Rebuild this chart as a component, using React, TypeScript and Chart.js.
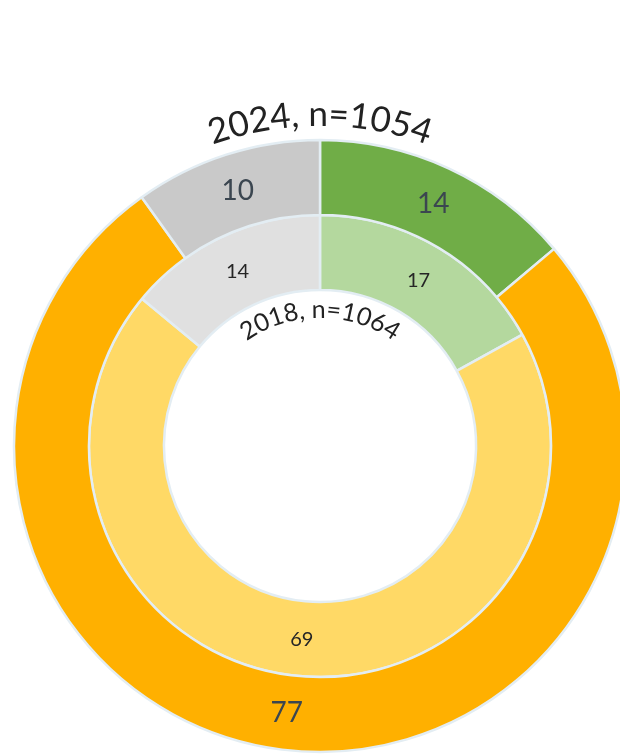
import React, { useEffect, useRef } from "react";
import { Chart, registerables } from "chart.js";

Chart.register(...registerables);

const categories = ["Yes", "No", "Don't know"];
const values2024 = [14, 77, 10];
const values2018 = [17, 69, 14];
const colors2024 = ["#70AD47", "#FFB000", "#C9C9C9"];
const colors2018 = ["#B4D89E", "#FFD966", "#E0E0E0"];
const title2024 = "2024, n=1054";
const title2018 = "2018, n=1064";

const FONT = "Lato, 'Open Sans', sans-serif";

function drawArcText(ctx: CanvasRenderingContext2D, text: string, cx: number, cy: number, r: number, font: string, color: string) {
  ctx.save();
  ctx.font = font;
  ctx.fillStyle = color;
  ctx.textAlign = "center";
  ctx.textBaseline = "alphabetic";
  const total = ctx.measureText(text).width;
  const span = total / r;
  let a = -span / 2;
  for (const ch of text) {
    const w = ctx.measureText(ch).width;
    const mid = a + w / 2 / r;
    ctx.save();
    ctx.translate(cx + r * Math.sin(mid), cy - r * Math.cos(mid));
    ctx.rotate(mid);
    ctx.fillText(ch, 0, 0);
    ctx.restore();
    a += w / r;
  }
  ctx.restore();
}

const labelsPlugin = {
  id: "ringLabels",
  afterDraw(chart: any) {
    const ctx = chart.ctx as CanvasRenderingContext2D;
    chart.data.datasets.forEach((ds: any, di: number) => {
      const meta = chart.getDatasetMeta(di);
      meta.data.forEach((arc: any, i: number) => {
        const p = arc.tooltipPosition();
        ctx.save();
        ctx.font = di === 0 ? `28px ${FONT}` : `20px ${FONT}`;
        ctx.fillStyle = di === 0 ? "#3B4650" : "#262626";
        ctx.textAlign = "center";
        ctx.textBaseline = "middle";
        ctx.fillText(String(ds.data[i]), p.x, p.y + 1);
        ctx.restore();
      });
    });
    const arc0 = chart.getDatasetMeta(0).data[0];
    const arc1 = chart.getDatasetMeta(1).data[0];
    if (arc0 && arc1) {
      const cx = arc0.x;
      const cy = arc0.y;
      drawArcText(ctx, title2024, cx, cy, arc0.outerRadius + 14, `35px ${FONT}`, "#222222");
      drawArcText(ctx, title2018, cx, cy, arc1.innerRadius - 28, `25px ${FONT}`, "#222222");
    }
  },
};

export default function App() {
  const ref = useRef<HTMLCanvasElement | null>(null);
  useEffect(() => {
    document.body.style.overflow = "hidden";
    const canvas = ref.current;
    if (!canvas) return;
    const chart = new Chart(canvas, {
      type: "doughnut",
      data: {
        labels: categories,
        datasets: [
          { label: "2024", data: values2024, backgroundColor: colors2024, borderColor: "#E3EDF3", borderWidth: 2.5 },
          { label: "2018", data: values2018, backgroundColor: colors2018, borderColor: "#E3EDF3", borderWidth: 2.5 },
        ],
      },
      options: {
        animation: false,
        responsive: false,
        cutout: "51%",
        radius: 306,
        layout: { padding: { left: 20, right: 0, top: 138, bottom: 0 } },
        plugins: { legend: { display: false }, tooltip: { enabled: false }, title: { display: false } },
      },
      plugins: [labelsPlugin],
    });
    return () => chart.destroy();
  }, []);
  return (
    <div style={{ position: "fixed", left: 0, top: 0, width: 620, height: 754, background: "#fff" }}>
      <canvas ref={ref} width={620} height={754} style={{ width: 620, height: 754, display: "block" }} />
    </div>
  );
}
